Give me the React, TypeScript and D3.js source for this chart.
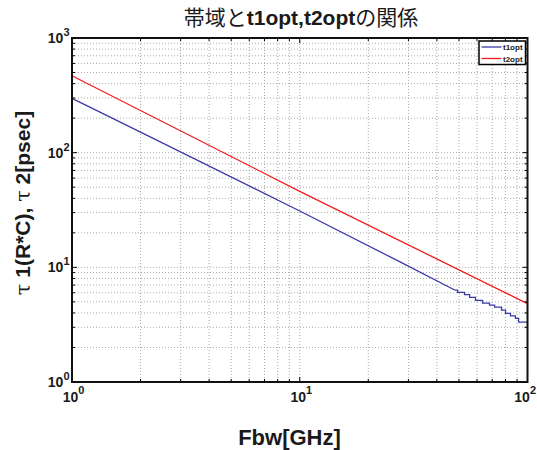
import React from "react";
import * as d3 from "d3";

const W = 537;
const H = 450;
const plot = { left: 72, right: 527.5, top: 38, bottom: 382 };

// text
const titleParts = ["帯域と", "t1opt,t2opt", "の関係"];
const xLabel = "Fbw[GHz]";
const yLabelParts = ["τ", " 1(R*C), ", "τ", " 2[psec]"];
const seriesNames = ["t1opt", "t2opt"];
const seriesColors = ["#3a3aa8", "#f01c1c"];

// domains
const xDomain = [1, 100];
const yDomain = [1, 1000];

// t1opt (smooth part)
const t1Freq = [1, 2, 10, 27.7, 47.9];
const t1Val = [297, 151, 31, 11.1, 6.34];
// t1opt staircase at high frequency
const t1StepFreq = [47.9, 49.3, 52.9, 55.7, 59.1, 63.5, 68.1, 71.7, 76.9, 80.1, 84.2, 88.5, 91.4, 100];
const t1StepVal = [6.34, 6.05, 5.78, 5.47, 5.15, 4.88, 4.69, 4.5, 4.24, 3.96, 3.78, 3.59, 3.33, 3.33];

// t2opt
const t2Freq = [1, 10, 100];
const t2Val = [469, 46, 4.82];

const latin = "'Liberation Sans', Arial, Helvetica, sans-serif";
const cjk = "'Noto Sans CJK JP', 'Noto Sans CJK SC', sans-serif";

function isMajor(v: number) {
  const l = Math.log10(v);
  return Math.abs(l - Math.round(l)) < 1e-9;
}

function Chart() {
  const x = d3.scaleLog().domain(xDomain).range([plot.left, plot.right]);
  const y = d3.scaleLog().domain(yDomain).range([plot.bottom, plot.top]);

  const line = d3
    .line<[number, number]>()
    .x((d) => x(d[0]))
    .y((d) => y(d[1]));
  const stepLine = d3
    .line<[number, number]>()
    .x((d) => x(d[0]))
    .y((d) => y(d[1]))
    .curve(d3.curveStepAfter);

  const t1 = t1Freq.map((f, i) => [f, t1Val[i]] as [number, number]);
  const t1s = t1StepFreq.map((f, i) => [f, t1StepVal[i]] as [number, number]);
  const t2 = t2Freq.map((f, i) => [f, t2Val[i]] as [number, number]);

  const xt = x.ticks();
  const yt = y.ticks();
  const gridStyle = { stroke: "#aaaaaa", strokeWidth: 1, strokeDasharray: "1 2" };

  return (
    <svg width={W} height={H} style={{ position: "fixed", left: 0, top: 0, background: "#fff" }}>
      <rect x={0} y={0} width={W} height={H} fill="#fff" />
      {/* grid */}
      <g>
        {xt
          .filter((v) => v > xDomain[0] && v < xDomain[1])
          .map((v, i) => (
            <line key={"gx" + i} x1={x(v)} x2={x(v)} y1={plot.top} y2={plot.bottom} {...gridStyle} />
          ))}
        {yt
          .filter((v) => v > yDomain[0] && v < yDomain[1])
          .map((v, i) => (
            <line key={"gy" + i} x1={plot.left} x2={plot.right} y1={y(v)} y2={y(v)} {...gridStyle} />
          ))}
      </g>
      {/* data */}
      <g fill="none" strokeWidth={1.3}>
        <path d={line(t1) || ""} stroke={seriesColors[0]} />
        <path d={stepLine(t1s) || ""} stroke={seriesColors[0]} />
        <path d={line(t2) || ""} stroke={seriesColors[1]} />
      </g>
      {/* ticks */}
      <g stroke="#000" strokeWidth={1}>
        {xt.map((v, i) => {
          const len = isMajor(v) ? 5 : 3;
          return (
            <g key={"tx" + i}>
              <line x1={x(v)} x2={x(v)} y1={plot.bottom} y2={plot.bottom - len} />
              <line x1={x(v)} x2={x(v)} y1={plot.top} y2={plot.top + len} />
            </g>
          );
        })}
        {yt.map((v, i) => {
          const len = isMajor(v) ? 5 : 3;
          return (
            <g key={"ty" + i}>
              <line x1={plot.left} x2={plot.left + len} y1={y(v)} y2={y(v)} />
              <line x1={plot.right} x2={plot.right - len} y1={y(v)} y2={y(v)} />
            </g>
          );
        })}
      </g>
      <rect
        x={plot.left}
        y={plot.top}
        width={plot.right - plot.left}
        height={plot.bottom - plot.top}
        fill="none"
        stroke="#111"
        strokeWidth={2}
      />
      {/* tick labels */}
      <g fontFamily={latin} fontWeight="bold" fill="#1a1a1a">
        {xt.filter(isMajor).map((v, i, arr) => {
          const last = i === arr.length - 1;
          return (
            <text
              key={"lx" + i}
              x={last ? W - 1 : x(v) + 1.5}
              y={plot.bottom + 19.5}
              textAnchor={last ? "end" : "middle"}
              fontSize={14}
            >
              10
              <tspan fontSize={11} dy={-8}>
                {Math.round(Math.log10(v))}
              </tspan>
            </text>
          );
        })}
        {yt.filter(isMajor).map((v, i) => (
          <text key={"ly" + i} x={69.5} y={y(v) + 5} textAnchor="end" fontSize={14}>
            10
            <tspan fontSize={11} dy={-7}>
              {Math.round(Math.log10(v))}
            </tspan>
          </text>
        ))}
      </g>
      {/* title */}
      <text x={301} y={25} textAnchor="middle" fontSize={21} fill="#1a1a1a">
        <tspan fontFamily={cjk}>{titleParts[0]}</tspan>
        <tspan fontFamily={latin} fontWeight="bold">
          {titleParts[1]}
        </tspan>
        <tspan fontFamily={cjk}>{titleParts[2]}</tspan>
      </text>
      {/* axis labels */}
      <text x={289.5} y={445} textAnchor="middle" fontSize={22} fontWeight="bold" fontFamily={latin} fill="#1a1a1a">
        {xLabel}
      </text>
      <text
        transform={`translate(30,203) rotate(-90)`}
        textAnchor="middle"
        fontSize={21}
        fontWeight="bold"
        fontFamily={latin}
        fill="#1a1a1a"
      >
        <tspan fontFamily="'DejaVu Serif', serif" fontWeight="normal">
          {yLabelParts[0]}
        </tspan>
        <tspan>{yLabelParts[1]}</tspan>
        <tspan fontFamily="'DejaVu Serif', serif" fontWeight="normal">
          {yLabelParts[2]}
        </tspan>
        <tspan>{yLabelParts[3]}</tspan>
      </text>
      {/* legend */}
      <g>
        <rect x={479} y={41} width={46.5} height={23.5} fill="#fff" stroke="#000" strokeWidth={1.5} />
        {seriesNames.map((name, i) => {
          const ly = 47 + i * 11.5;
          return (
            <g key={name}>
              <line x1={481.5} x2={501.5} y1={ly} y2={ly} stroke={seriesColors[i]} strokeWidth={1.3} />
              <text x={503} y={ly + 3} fontSize={8} fontWeight="bold" fontFamily={latin} fill="#1a1a1a">
                {name}
              </text>
            </g>
          );
        })}
      </g>
    </svg>
  );
}

export default function App() {
  return <Chart />;
}
